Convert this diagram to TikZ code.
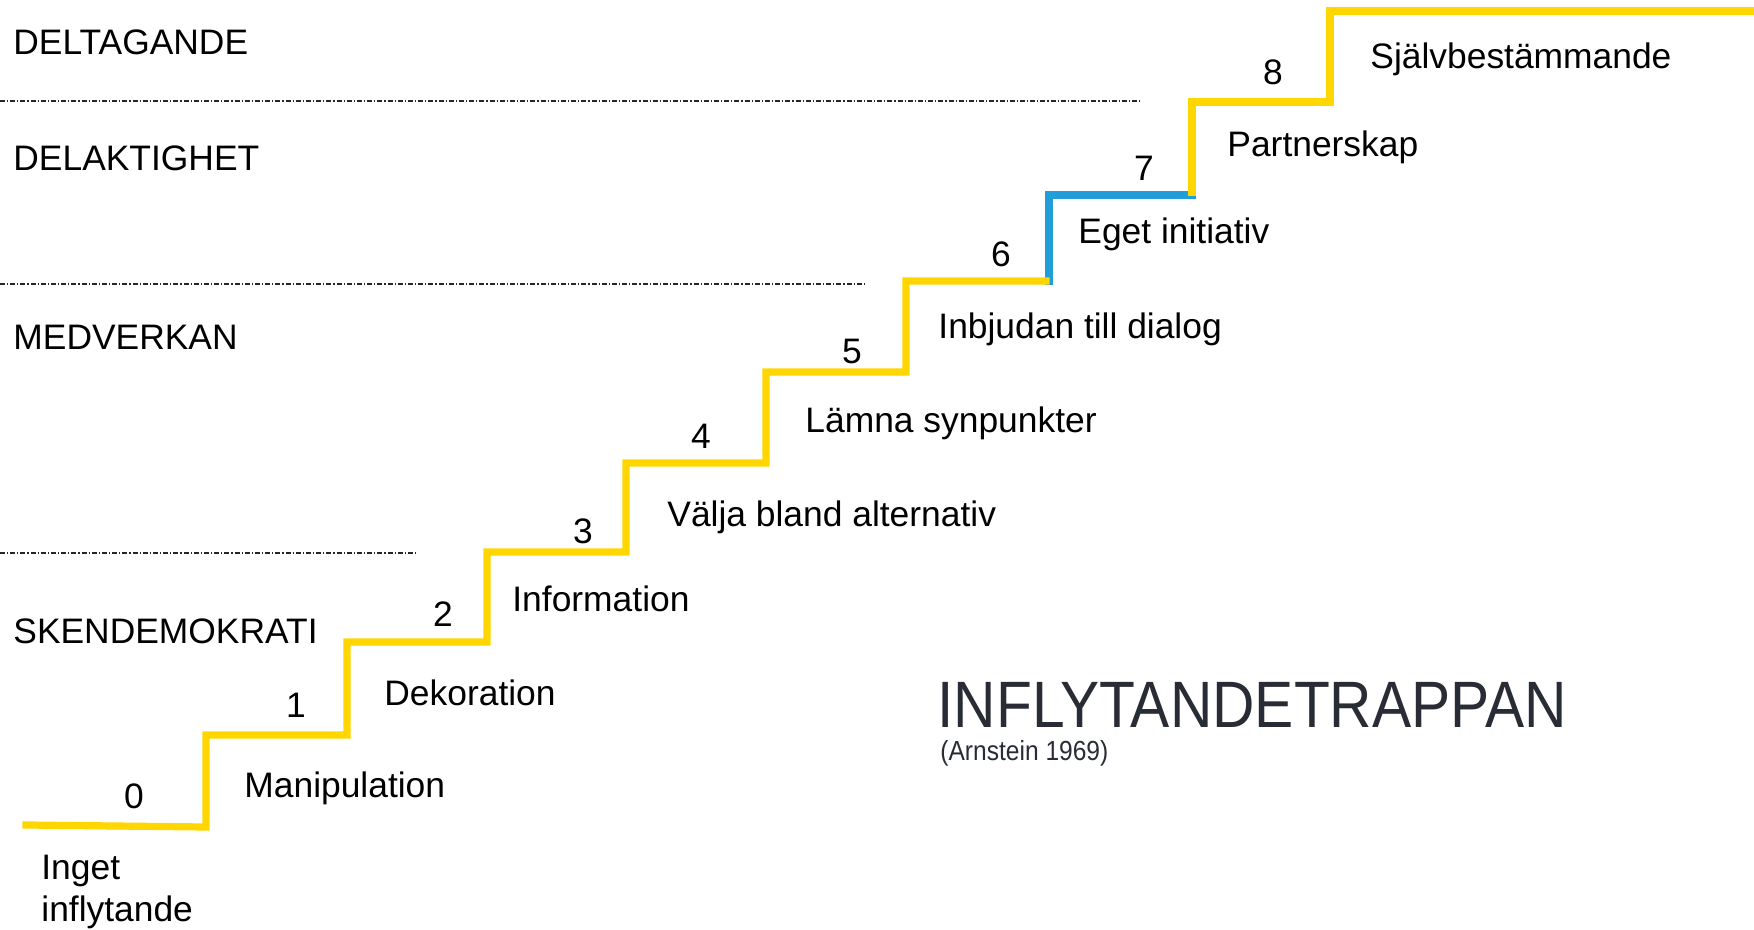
\documentclass[tikz,border=0pt]{standalone}
\usepackage{fontspec}
\setmainfont{Liberation Sans}
\newfontfamily\titlefont[FakeStretch=0.895]{Liberation Sans}
\newfontfamily\sourcefont[FakeStretch=0.89]{Liberation Sans}
\definecolor{stairyellow}{RGB}{255,214,0}
\definecolor{stairblue}{RGB}{33,158,216}
\definecolor{titlegray}{RGB}{40,44,52}
\begin{document}
\begin{tikzpicture}[x=0.5pt,y=-0.5pt,
  lbl/.style={anchor=base west,inner sep=0pt,font=\fontsize{17.7}{21}\selectfont},
  num/.style={anchor=base,inner sep=0pt,font=\fontsize{17.7}{21}\selectfont},
  divider/.style={line width=0.6pt,black!85,dash pattern=on 2.5pt off 1pt on 0.6pt off 1pt},
  stair/.style={line width=3.6pt,stairyellow,line join=miter,line cap=rect},
  stairhi/.style={line width=3.6pt,stairblue,line join=miter,line cap=rect}]
\fill[white] (0,0) rectangle (1754,930);
\useasboundingbox (0,0) rectangle (1754,930);

% dividers
\draw[divider] (0,101) -- (1141,101);
\draw[divider] (0,284) -- (866,284);
\draw[divider] (0,553) -- (416,553);

% stairs
\draw[stairhi] (1049,281) -- (1049,195) -- (1192,195);
\draw[stair] (26,825) -- (206,827) -- (206,735) -- (347,735) -- (347,642) -- (487,642)
  -- (487,552) -- (626,552) -- (626,463) -- (766,463) -- (766,372) -- (906,372)
  -- (906,281) -- (1046,281);
\draw[stair] (1192,192) -- (1192,102) -- (1330,102) -- (1330,11) -- (1760,11);

% level names
\node[lbl] (deltagande) at (13,55) {DELTAGANDE};
\node[lbl] (delaktighet) at (13,171) {DELAKTIGHET};
\node[lbl] (medverkan) at (13,350) {MEDVERKAN};
\node[lbl] (skendemokrati) at (13,643) {SKENDEMOKRATI};

% step numbers
\node[num] (n0) at (134,808) {0};
\node[num] (n1) at (296,717) {1};
\node[num] (n2) at (443,626) {2};
\node[num] (n3) at (583,543) {3};
\node[num] (n4) at (701,448) {4};
\node[num] (n5) at (852,364) {5};
\node[num] (n6) at (1001,267) {6};
\node[num] (n7) at (1144,181) {7};
\node[num] (n8) at (1273,85) {8};

% step names
\node[lbl,align=left] (s0) at (41,921) {Inget\\inflytande};
\node[lbl] (s1) at (244,797) {Manipulation};
\node[lbl] (s2) at (384,705) {Dekoration};
\node[lbl] (s3) at (512,611) {Information};
\node[lbl] (s4) at (667,526) {Välja bland alternativ};
\node[lbl] (s5) at (805,432) {Lämna synpunkter};
\node[lbl] (s6) at (938,338) {Inbjudan till dialog};
\node[lbl] (s7) at (1078,244) {Eget initiativ};
\node[lbl] (s8) at (1227,157) {Partnerskap};
\node[lbl] (s9) at (1370,69) {Självbestämmande};

% title
\node[anchor=base west,inner sep=0pt,text depth=0pt,text=titlegray,font=\titlefont\fontsize{32.8}{38}\selectfont] (title) at (937,727) {INFLYTANDETRAPPAN};
\node[anchor=base west,inner sep=0pt,text height=7pt,text=titlegray,font=\sourcefont\fontsize{13.8}{16}\selectfont] (source) at (940,760) {(Arnstein 1969)};
\end{tikzpicture}
\end{document}
